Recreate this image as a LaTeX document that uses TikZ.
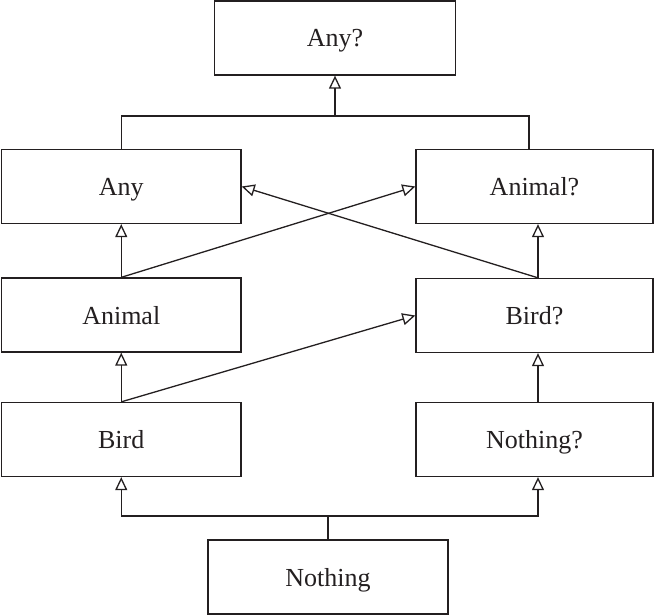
\documentclass[tikz,border=0pt]{standalone}
\usepackage{fontspec}
\setmainfont{Liberation Serif}
\usetikzlibrary{arrows.meta}
\definecolor{ink}{HTML}{231F20}
\begin{document}
\begin{tikzpicture}[x=1pt,y=-1pt,
  box/.style={draw=ink,line width=1.3pt,minimum height=74pt,inner sep=0pt,font=\fontsize{26}{30}\selectfont,text=ink,text depth=0pt},
  lbox/.style={box,minimum width=239.5pt},
  rbox/.style={box,minimum width=237pt},
  conn/.style={draw=ink,line width=1.3pt},
  inh/.style={conn,-{Triangle[open,length=13pt,width=12pt,line width=1.3pt]}}]
\useasboundingbox (0,0) rectangle (654,615);
\node[box,minimum width=241pt] (anyq) at (335,38) {Any?};
\node[lbox] (any) at (121.25,186.5) {Any};
\node[rbox] (animalq) at (534.5,186.5) {Animal?};
\node[lbox] (animal) at (121.25,315) {Animal};
\node[rbox] (birdq) at (534.5,315.5) {Bird?};
\node[lbox] (bird) at (121.25,439.5) {Bird};
\node[rbox] (nothingq) at (534.5,439.5) {Nothing?};
\node[box,minimum width=240pt] (nothing) at (328,577) {Nothing};
\coordinate (jtop) at (335,116);
\coordinate (jbot) at (328,516);
% top join
\draw[conn] (any.north) |- (jtop) -| ([xshift=-5.5pt]animalq.north);
\draw[inh] (jtop) -- (anyq.south);
% left column
\draw[inh] (animal.north) -- (any.south);
\draw[inh] (bird.north) -- (animal.south);
% right column
\draw[inh] ([xshift=3.5pt]birdq.north) -- ([xshift=3.5pt]animalq.south);
\draw[inh] ([xshift=3.5pt]nothingq.north) -- ([xshift=3.5pt]birdq.south);
% diagonals
\draw[inh] (animal.north) -- (animalq.west);
\draw[inh] ([xshift=3.5pt]birdq.north) -- (any.east);
\draw[inh] (bird.north) -- (birdq.west);
% bottom join
\draw[conn] (nothing.north) -- (jbot);
\draw[inh] (jbot) -| (bird.south);
\draw[inh] (jbot) -| ([xshift=3.5pt]nothingq.south);
\end{tikzpicture}
\end{document}
